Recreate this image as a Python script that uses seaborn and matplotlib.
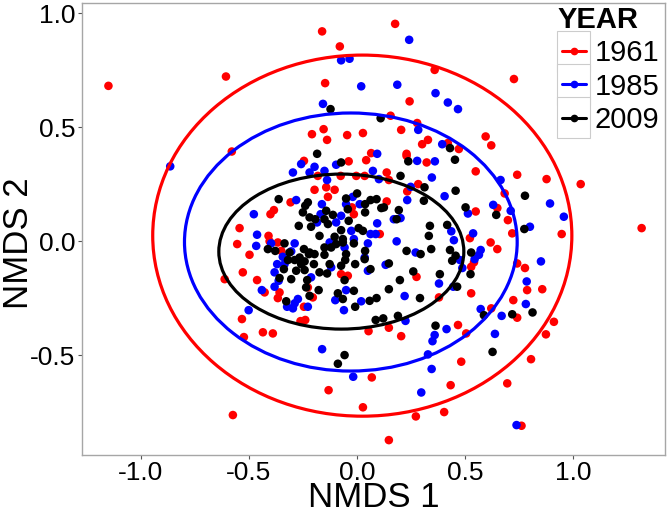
import numpy as np
import pandas as pd
import matplotlib
matplotlib.use("Agg")
import matplotlib.pyplot as plt
from matplotlib.patches import Ellipse, Rectangle
from matplotlib.lines import Line2D
from matplotlib.legend_handler import HandlerBase
import seaborn as sns

# NMDS scores
x_1961 = [-1.15, -0.606, -0.161, -0.079, -0.147, -0.208, -0.154, -0.138, -0.045, 0.028,
          -0.579, 0.066, 0.177, 0.36, 0.727, 0.244, 0.156, 0.279, 0.205, 0.329,
          0.302, 0.421, 0.472, 0.596, 0.622, 0.23, -0.612, -0.245, -0.075, -0.038,
          0.043, -0.181, -0.003, 0.036, -0.142, -0.103, -0.196, -0.134, -0.307, -0.023,
          -0.384, -0.4, -0.014, -0.543, -0.409, -0.554, -0.404, -0.366, -0.35, -0.497,
          -0.528, -0.073, -0.462, -0.042, -0.427, -0.358, -0.227, -0.204, -0.366, 0.23,
          0.323, 0.138, 0.148, 0.284, 0.233, 0.55, 0.742, 0.684, 0.138, 0.55,
          0.65, 0.699, 0.106, 0.523, 0.719, 0.619, 0.65, 0.542, 0.529, 0.742,
          0.276, 0.529, 0.38, 0.724, 0.878, 1.036, 0.948, 1.318, 0.778, 0.788,
          0.858, -0.532, -0.523, -0.435, -0.389, -0.261, -0.239, -0.245, 0.054, 0.069,
          -0.131, 0.028, -0.574, 0.148, 0.205, 0.468, 0.506, 0.483, 0.622, 0.742,
          0.434, 0.696, 0.273, 0.404, 0.148, 0.912, 0.875, 0.806, 0.762]
y_1961 = [0.681, 0.722, 0.92, 0.854, 0.693, 0.469, 0.491, 0.444, 0.465, 0.474,
          0.393, 0.386, 0.953, 0.751, 0.711, 0.613, 0.55, 0.518, 0.488, 0.444,
          0.425, 0.43, 0.404, 0.459, 0.42, 0.383, -0.167, 0.352, 0.286, 0.35,
          0.355, 0.286, 0.286, 0.286, 0.236, 0.225, 0.225, 0.194, 0.17, 0.148,
          0.136, 0.118, 0.118, 0.057, 0.023, -0.013, -0.001, -0.006, -0.043, -0.06,
          -0.137, -0.145, -0.171, -0.152, -0.225, -0.225, -0.203, -0.247, -0.25, 0.374,
          0.345, 0.301, 0.268, 0.25, 0.218, 0.306, 0.291, 0.209, 0.174, 0.13,
          0.145, 0.092, 0.031, 0.013, 0.034, -0.006, -0.035, -0.093, -0.113, -0.098,
          -0.157, -0.229, -0.247, -0.259, 0.272, 0.25, 0.031, 0.057, -0.118, -0.215,
          -0.211, -0.342, -0.421, -0.4, -0.405, -0.351, -0.346, -0.288, -0.395, -0.598,
          -0.654, -0.729, -0.763, -0.38, -0.417, -0.368, -0.405, -0.529, -0.295, -0.336,
          -0.632, -0.624, -0.769, -0.75, -0.873, -0.354, -0.409, -0.518, -0.81]

x_1985 = [-0.073, -0.034, 0.02, -0.157, 0.242, 0.187, 0.364, 0.421, 0.468, 0.284,
          0.395, 0.094, -0.864, -0.258, -0.196, -0.219, -0.15, -0.096, -0.296, -0.138,
          0.074, -0.281, -0.162, -0.019, -0.05, 0.013, -0.168, -0.073, -0.477, -0.184,
          -0.096, -0.026, 0.063, -0.462, -0.126, -0.014, -0.466, -0.397, -0.288, -0.304,
          -0.057, 0.051, -0.343, -0.369, -0.335, 0.036, 0.051, -0.381, -0.119, -0.362,
          -0.212, -0.381, -0.44, -0.273, -0.288, -0.05, -0.1, 0.02, 0.279, 0.361,
          0.102, 0.347, 0.249, 0.665, 0.406, 0.233, 0.514, 0.631, 0.712, 0.171,
          0.202, 0.094, 0.437, 0.087, 0.449, 0.538, 0.184, 0.272, 0.477, 0.573,
          0.565, 0.545, 0.488, 0.133, 0.38, 0.446, 0.221, 0.894, 0.958, 0.801,
          0.852, 0.786, 0.782, -0.501, -0.323, -0.296, -0.227, -0.06, -0.161, -0.017,
          0.225, 0.415, 0.36, 0.35, 0.329, 0.346, 0.573, 0.67, 0.639, 0.298, 0.739]
y_1985 = [0.793, 0.8, 0.679, 0.602, 0.883, 0.686, 0.649, 0.608, 0.579, 0.488,
          0.425, 0.383, 0.328, 0.338, 0.326, 0.301, 0.308, 0.335, 0.301, 0.268,
          0.308, 0.18, 0.162, 0.194, 0.162, 0.162, 0.118, 0.111, 0.118, 0.082,
          0.082, 0.045, 0.031, 0.028, -0.006, 0.009, -0.021, -0.01, -0.01, -0.045,
          -0.028, -0.01, -0.069, -0.101, -0.101, -0.072, -0.13, -0.137, -0.115, -0.174,
          -0.159, -0.2, -0.215, -0.254, -0.273, -0.215, -0.259, -0.264, 0.352, 0.35,
          0.272, 0.279, 0.238, 0.268, 0.197, 0.18, 0.121, 0.159, 0.133, 0.096,
          0.101, 0.078, 0.043, 0.031, 0.004, 0.034, -0.001, -0.05, -0.083, -0.039,
          -0.06, -0.079, -0.118, -0.104, -0.186, -0.2, -0.241, 0.165, 0.107, 0.063,
          -0.089, -0.177, -0.276, -0.303, -0.288, -0.295, -0.288, -0.303, -0.474, -0.595,
          -0.35, -0.386, -0.412, -0.439, -0.497, -0.561, -0.298, -0.328, -0.407, -0.664, -0.807]

x_2009 = [-0.122, -0.184, 0.11, 0.431, -0.073, -0.362, -0.227, -0.239, -0.05, 0.001,
          -0.042, 0.038, 0.063, -0.25, -0.142, -0.111, 0.038, -0.219, -0.193, -0.15,
          -0.134, -0.269, -0.212, -0.073, -0.038, 0.008, 0.028, -0.173, -0.103, -0.065,
          -0.096, -0.065, -0.014, -0.335, -0.412, -0.378, -0.245, -0.219, -0.15, -0.119,
          -0.05, 0.038, -0.312, -0.288, -0.265, -0.242, -0.222, -0.196, -0.319, -0.258,
          -0.199, -0.15, -0.126, -0.054, -0.073, -0.008, 0.036, 0.063, -0.338, -0.281,
          -0.242, -0.173, -0.138, -0.358, -0.304, -0.23, -0.057, -0.235, -0.177, -0.219,
          -0.327, -0.088, -0.014, -0.065, 0.059, 0.454, 0.238, 0.202, 0.313, 0.457,
          0.091, 0.31, 0.125, 0.113, 0.194, 0.503, 0.645, 0.184, 0.338, 0.418,
          0.333, 0.23, 0.295, 0.344, 0.431, 0.457, 0.441, 0.529, 0.148, 0.261,
          0.384, 0.526, 0.199, 0.464, 0.148, 0.292, 0.091, 0.778, 0.775, -0.008,
          -0.057, -0.088, 0.087, 0.122, 0.19, 0.364, 0.588, 0.719, 0.628, 0.813]
y_2009 = [0.579, 0.383, 0.539, 0.408, 0.345, 0.184, 0.17, 0.155, 0.187, 0.209,
          0.14, 0.162, 0.18, 0.126, 0.133, 0.115, 0.126, 0.104, 0.096, 0.096,
          0.075, 0.067, 0.063, 0.048, 0.089, 0.057, 0.045, 0.023, 0.019, 0.009,
          -0.013, -0.006, -0.01, -0.01, -0.035, -0.043, -0.035, -0.05, -0.028, -0.028,
          -0.057, -0.043, -0.05, -0.083, -0.072, -0.089, -0.057, -0.057, -0.083, -0.101,
          -0.101, -0.06, -0.101, -0.083, -0.108, -0.101, -0.079, -0.123, -0.123, -0.13,
          -0.127, -0.137, -0.142, -0.162, -0.167, -0.171, -0.171, -0.203, -0.215, -0.24,
          -0.264, -0.229, -0.218, -0.254, -0.262, 0.357, 0.35, 0.286, 0.236, 0.221,
          0.184, 0.177, 0.148, 0.145, 0.136, 0.148, 0.115, 0.096, 0.067, 0.071,
          0.023, -0.043, -0.057, -0.035, -0.039, -0.064, -0.086, -0.05, -0.098, -0.133,
          -0.145, -0.145, -0.171, -0.2, -0.211, -0.25, -0.25, 0.199, 0.053, -0.288,
          -0.5, -0.538, -0.346, -0.339, -0.328, -0.371, -0.325, -0.321, -0.486, -0.313]

years = ["1961", "1985", "2009"]
colors = ["#FF0000", "#0000FF", "#000000"]

# ellipse per year: centre and semi-axes (NMDS units)
ell_cx = [0.025, -0.028, -0.072]
ell_cy = [0.024, -0.004, -0.046]
ell_rx = [0.97, 0.77, 0.567]
ell_ry = [0.792, 0.566, 0.34]

df = pd.concat([
    pd.DataFrame({"NMDS1": x_1961, "NMDS2": y_1961, "YEAR": "1961"}),
    pd.DataFrame({"NMDS1": x_1985, "NMDS2": y_1985, "YEAR": "1985"}),
    pd.DataFrame({"NMDS1": x_2009, "NMDS2": y_2009, "YEAR": "2009"}),
])

sns.set_style("white")
plt.rcParams["font.family"] = ["Liberation Sans", "DejaVu Sans"]
plt.rcParams["axes.unicode_minus"] = False
plt.rcParams["text.color"] = "black"
plt.rcParams["axes.labelcolor"] = "black"


# ggplot-like legend key: grey-bordered square with a line and a dot
class KeyHandler(HandlerBase):
    def create_artists(self, legend, orig_handle, xdescent, ydescent,
                       width, height, fontsize, trans):
        c = orig_handle.get_color()
        x0 = -xdescent
        y0 = -ydescent
        box = Rectangle((x0, y0 - 6), width, height + 12, facecolor="white",
                        edgecolor="#CCCCCC", linewidth=0.8, transform=trans)
        ym = y0 + height / 2
        ln = Line2D([x0 + 3, x0 + width - 3], [ym, ym], color=c, linewidth=2.2, transform=trans)
        dot = Line2D([x0 + width / 2], [ym], marker="o", markersize=4.5, color=c,
                     linestyle="none", transform=trans)
        return [box, ln, dot]


fig = plt.figure(figsize=(6.71, 5.19), dpi=100)
ax = fig.add_axes([0.122, 0.123, 0.869, 0.871])

sns.scatterplot(data=df, x="NMDS1", y="NMDS2", hue="YEAR", palette=dict(zip(years, colors)),
                s=38, linewidth=0, edgecolor="none", legend=False, ax=ax, zorder=2)

# confidence ellipses on top of the points
for i in range(len(years)):
    e = Ellipse((ell_cx[i], ell_cy[i]), 2 * ell_rx[i], 2 * ell_ry[i],
                fill=False, edgecolor=colors[i], linewidth=2.3, zorder=3)
    ax.add_patch(e)

ax.set_xlim(-1.273, 1.426)
ax.set_ylim(-0.939, 1.044)
ax.set_xticks([-1.0, -0.5, 0.0, 0.5, 1.0])
ax.set_xticklabels(["-1.0", "-0.5", "0.0", "0.5", "1.0"])
ax.set_yticks([-0.5, 0.0, 0.5, 1.0])
ax.set_yticklabels(["-0.5", "0.0", "0.5", "1.0"])
ax.tick_params(axis="both", labelsize=19, colors="#555555", labelcolor="black",
               length=3, width=0.8, direction="out", bottom=True, left=True, pad=1.5)
ax.set_xlabel("NMDS 1", fontsize=25, color="black", va="center")
ax.set_ylabel("NMDS 2", fontsize=25, color="black", va="center")
ax.xaxis.set_label_coords(0.5, -0.094)
ax.yaxis.set_label_coords(-0.109, 0.469)
for sp in ax.spines.values():
    sp.set_color("#A6A6A6")
    sp.set_linewidth(1.0)

handles = [Line2D([0], [0], color=c) for c in colors]
leg = ax.legend(handles, years, title="YEAR", loc="upper right", bbox_to_anchor=(0.99, 0.993),
                frameon=False, fontsize=21, title_fontproperties={"size": 21, "weight": "bold"},
                handler_map={Line2D: KeyHandler()}, alignment="left",
                handlelength=1.12, handleheight=0.9, handletextpad=0.15,
                labelspacing=0.17, borderpad=0.0, borderaxespad=0.0)

fig.savefig("out.png", dpi=100)
